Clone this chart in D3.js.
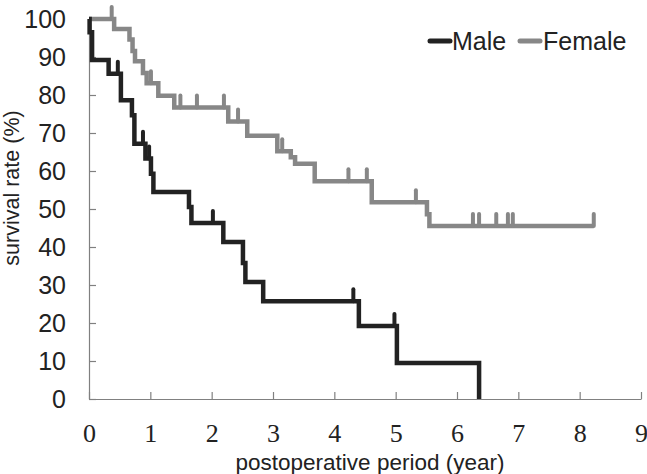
<!DOCTYPE html>
<html>
<head>
<meta charset="utf-8">
<script src="https://cdn.jsdelivr.net/npm/d3@7/dist/d3.min.js"></script>
<style>
  html, body { margin: 0; padding: 0; background: #fff; }
  svg { display: block; }
</style>
</head>
<body>
<svg id="chart" width="647" height="474"></svg>
<script>
// ---- data ----
const seriesNames = ["Male", "Female"];
const seriesColors = ["#222222", "#878787"];

// Kaplan–Meier step points: [time (year), survival (%)] ; each pair = step down at that time
const maleSteps = [[0, 100], [0.01, 96.5], [0.05, 89.2], [0.32, 85.6], [0.52, 78.6], [0.70, 74.7], [0.74, 67.2],
  [0.92, 63.3], [1.01, 59.3], [1.05, 54.5], [1.63, 50.5], [1.67, 46.3], [2.19, 41.3], [2.51, 35.8],
  [2.55, 30.8], [2.84, 25.7], [4.40, 19.2], [5.02, 9.5], [6.36, 0]];
const maleEnd = 6.36;
const maleCensor = [0.47, 0.88, 0.98, 2.02, 4.31, 4.98];

const femaleSteps = [[0, 100], [0.41, 97.4], [0.66, 94.6], [0.71, 91.6], [0.75, 88.9], [0.88, 85.8], [0.94, 83.1],
  [1.13, 79.8], [1.39, 76.7], [2.27, 73.0], [2.58, 69.3], [3.07, 65.2], [3.29, 63.6], [3.36, 61.9],
  [3.68, 57.3], [4.61, 51.8], [5.51, 48.6], [5.55, 45.5]];
const femaleEnd = 8.23;
const femaleCensor = [0.37, 1.01, 1.49, 1.76, 2.20, 2.43, 3.15, 4.23, 4.53, 5.33, 6.26, 6.36, 6.64, 6.83, 6.91, 8.23];

const xTicks = [0, 1, 2, 3, 4, 5, 6, 7, 8, 9];
const yTicks = [0, 10, 20, 30, 40, 50, 60, 70, 80, 90, 100];
const xTitle = "postoperative period (year)";
const yTitle = "survival rate (%)";

// ---- layout ----
const svg = d3.select("#chart");
const x = d3.scaleLinear().domain([0, 9]).range([89, 641]);
const y = d3.scaleLinear().domain([0, 100]).range([399, 19]);
const axisColor = "#808080";

// axes
const gx = svg.append("g").attr("transform", `translate(0,${y(0)})`)
  .call(d3.axisBottom(x).tickValues(xTicks).tickSizeInner(-7).tickSizeOuter(0).tickPadding(25)
    .tickFormat(d3.format("d")));
gx.select(".domain").attr("stroke", axisColor).attr("stroke-width", 1.2);
gx.selectAll(".tick line").attr("stroke", axisColor).attr("stroke-width", 1.2);
gx.selectAll(".tick text").attr("fill", "#222").attr("font-family", "'Liberation Serif', 'DejaVu Serif', serif")
  .attr("font-size", 26);

const gy = svg.append("g").attr("transform", `translate(${x(0)},0)`)
  .call(d3.axisLeft(y).tickValues(yTicks).tickSizeInner(-7).tickSizeOuter(0).tickPadding(23)
    .tickFormat(d3.format("d")));
gy.select(".domain").attr("stroke", axisColor).attr("stroke-width", 1.2);
gy.selectAll(".tick line").attr("stroke", axisColor).attr("stroke-width", 1.2);
gy.selectAll(".tick text").attr("fill", "#222").attr("font-family", "'Liberation Sans', Arial, sans-serif")
  .attr("font-size", 25);

// titles
svg.append("text").attr("x", 370).attr("y", 470).attr("text-anchor", "middle")
  .attr("font-family", "'Liberation Sans', Arial, sans-serif").attr("font-size", 22.5).attr("fill", "#222")
  .text(xTitle);
svg.append("text").attr("transform", "translate(19,188) rotate(-90)").attr("text-anchor", "middle")
  .attr("font-family", "'Liberation Sans', Arial, sans-serif").attr("font-size", 21.5).attr("fill", "#222")
  .text(yTitle);

// KM curves
function stepPoints(steps, end) {
  const pts = [];
  steps.forEach((s, i) => {
    if (i > 0) pts.push([s[0], steps[i - 1][1]]);
    pts.push(s);
  });
  const last = steps[steps.length - 1];
  if (end > last[0]) pts.push([end, last[1]]);
  return pts;
}
function survAt(steps, t) {
  let v = steps[0][1];
  steps.forEach(s => { if (s[0] <= t) v = s[1]; });
  return v;
}
const line = d3.line().x(d => x(d[0])).y(d => y(d[1]));

const groups = [
  { steps: maleSteps, end: maleEnd, censor: maleCensor, color: seriesColors[0] },
  { steps: femaleSteps, end: femaleEnd, censor: femaleCensor, color: seriesColors[1] }
];
// draw female first then male on top
[groups[1], groups[0]].forEach(g => {
  svg.append("path").datum(stepPoints(g.steps, g.end)).attr("d", line)
    .attr("fill", "none").attr("stroke", g.color).attr("stroke-width", 4.5)
    .attr("stroke-linejoin", "miter").attr("stroke-linecap", "butt");
  svg.append("g").selectAll("line").data(g.censor).join("line")
    .attr("x1", d => x(d)).attr("x2", d => x(d))
    .attr("y1", d => y(survAt(g.steps, d)))
    .attr("y2", d => y(survAt(g.steps, d)) - 12)
    .attr("stroke", g.color).attr("stroke-width", 4).attr("stroke-linecap", "round");
});

// legend
const legendX = [430, 520];
const legendTextX = [452, 543];
seriesNames.forEach((name, i) => {
  svg.append("line").attr("x1", legendX[i]).attr("x2", legendX[i] + 20).attr("y1", 41).attr("y2", 41)
    .attr("stroke", seriesColors[i]).attr("stroke-width", 5).attr("stroke-linecap", "round");
  svg.append("text").attr("x", legendTextX[i]).attr("y", 50)
    .attr("font-family", "'Liberation Sans', Arial, sans-serif").attr("font-size", 25).attr("fill", "#222")
    .text(name);
});
</script>
</body>
</html>
